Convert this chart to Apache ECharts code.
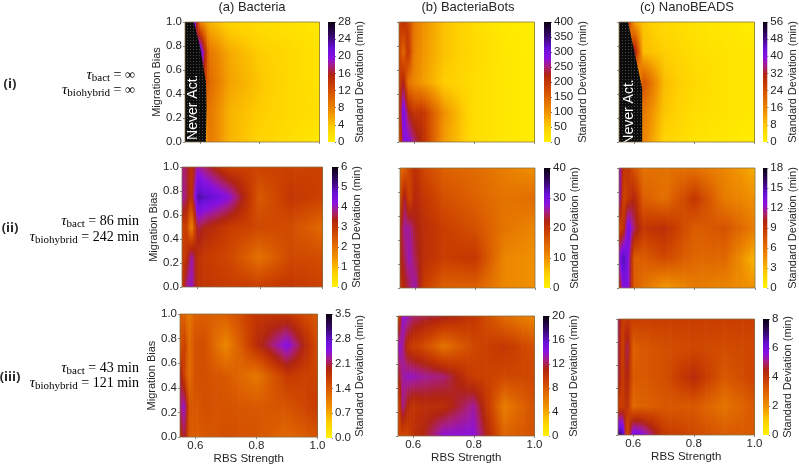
<!DOCTYPE html>
<html><head><meta charset="utf-8">
<style>html,body{margin:0;padding:0;background:#fff}#c{width:799px;height:466px}</style>
<script src="https://cdn.jsdelivr.net/npm/echarts@6/dist/echarts.min.js"></script>
</head><body><div id="c"></div>
<script>
// Grid nodes
const rbsNodes = [0.55, 0.565, 0.58, 0.6, 0.63, 0.7, 0.8, 0.9, 1.0];
const biasNodes = [0, 0.25, 0.5, 0.75, 1];
const xTicks = [0.6, 0.8, 1.0];

// Standard deviation (min); one row per migration bias node, bottom to top
const bacteria_i = [
  [0,0,0,2,9,5,3,2,1],
  [0,0,0,6,9,5,3.5,2.5,2],
  [0,0,0,18,10,6,4,2.5,1.5],
  [0,0,14,24,9,5.5,3.5,2.5,1.5],
  [0,18,22,8,5,3,2,1.5,1]];
const bots_i = [
  [150,280,290,250,210,90,30,15,8],
  [190,310,230,200,200,100,30,15,8],
  [190,230,130,110,90,50,30,15,8],
  [190,140,210,120,95,60,35,15,8],
  [190,210,190,130,100,60,30,12,5]];
const nano_i = [
  [0,0,0,0,16,6,3,2,1],
  [0,0,0,0,18,8,4,3,2],
  [0,0,0,0,24,9,5,3,2],
  [0,0,0,36,9,7,4,3,2],
  [0,0,30,12,8,5,3,2,1]];
const bacteria_ii = [
  [2.8,3.9,4.1,3.1,3.0,2.9,2.9,3.0,2.8],
  [2.8,3.1,4.0,3.1,2.9,2.7,2.0,2.7,2.6],
  [2.8,2.9,1.6,3.6,3.3,2.9,2.7,2.6,2.1],
  [4.0,3.6,3.0,5.0,4.8,4.2,2.4,3.0,2.8],
  [3.8,3.6,3.0,4.0,3.6,2.8,2.8,2.8,2.8]];
const bots_ii = [
  [20,22,24,27,19,15,15,11,10],
  [22,24,27,24,21,19,20,11,10],
  [22,26,26,23,21,19,17,13,11],
  [17,24,18,22,20,17,15,13,14],
  [14,15,18,21,18,15,14,12,10]];
const nano_ii = [
  [9,13,13,7,6,4,5.5,5,4.5],
  [13,15,13,7,7,8,6.5,6.5,3],
  [8,9,14,11,9,9.5,7,7.5,5.5],
  [13,8,9,10,7,6,9,5.5,4.5],
  [13,9,9,7.5,6,6,6,5,3.5]];
const bacteria_iii = [
  [1.8,2.1,1.4,1.35,1.4,1.5,1.45,1.25,1.45],
  [2.2,2.4,1.45,1.4,1.5,1.45,1.4,1.45,1.7],
  [2.1,1.6,1.2,1.5,1.5,1.4,1.1,1.7,1.6],
  [1.4,1.7,1.2,1.5,1.5,0.95,1.85,2.5,1.5],
  [1.35,1.3,1.1,1.35,1.35,1.35,1.75,1.75,1.4]];
const bots_iii = [
  [9,9,9,10.5,11,14,14,7.5,8.5],
  [8,13,11,10,10.5,10.5,13,6,8.5],
  [11,13,13.5,13.5,13,12.5,9.5,9,9],
  [14,13,10.5,9.5,9,6.5,9,10,8.5],
  [8,14,13.5,12.5,12,11.5,10,7,5.5]];
const nano_iii = [
  [7,7,3.2,6.2,5.8,4,3.6,3.2,3.2],
  [3.8,3.8,4.2,2.8,3,3.2,3.2,2.6,3.2],
  [5,3.8,4.6,3.2,3.2,3.4,4.3,3.2,3.7],
  [5,3.6,5,3,3.2,3.4,3.6,3.5,3.6],
  [5.2,3.8,4,3.8,3.8,3.8,3.8,3.8,3.8]];

// "Never Act." boundaries [rbs, bias]
const neverBacteria = [[0.55,0],[0.62,0],[0.622,0.3],[0.62,0.5],[0.61,0.65],[0.6,0.8],[0.58,1],[0.55,1]];
const neverNano = [[0.55,0],[0.627,0],[0.627,0.45],[0.58,1],[0.55,1]];

const titles = ['(a) Bacteria', '(b) BacteriaBots', '(c) NanoBEADS'];
const FONT = '"Liberation Sans", Arial, sans-serif';
const SERIF = '"Liberation Serif", serif';
const INK = '#262626';

// Colour scale: offset, colour
const cmapStops = [
  [0,'#FFF200'],[0.12,'#FFD000'],[0.25,'#F09000'],[0.38,'#DC6000'],[0.48,'#C83C00'],
  [0.56,'#B02410'],[0.63,'#A81E80'],[0.70,'#8A10E0'],[0.78,'#6A10D8'],[0.88,'#380870'],[1,'#0A0010']];
function colorAt(t){
  t = Math.max(0, Math.min(1, t));
  for (let i = 1; i < cmapStops.length; i++){
    if (t <= cmapStops[i][0]){
      const a = cmapStops[i-1], b = cmapStops[i];
      return echarts.color.lerp((t-a[0])/(b[0]-a[0]), [a[1], b[1]]);
    }
  }
  return cmapStops[cmapStops.length-1][1];
}

// Panel layouts
const panels = [
 {vals:bacteria_i,  max:28, step:4,  dec:0, l:185, t:22,  w:134.5,h:120,  cl:328,  cw:7, cGap:15, col:0,row:0, never:neverBacteria, nLabel:[0.578,0.29]},
 {vals:bots_i,      max:400,step:50, dec:0, l:399, t:22,  w:135.5,h:120,  cl:544,  cw:7, cGap:20, col:1,row:0},
 {vals:nano_i,      max:56, step:8,  dec:0, l:619, t:22,  w:135.5,h:120,  cl:763,  cw:6, cGap:15, col:2,row:0, never:neverNano, nLabel:[0.585,0.25]},
 {vals:bacteria_ii, max:6,  step:1,  dec:0, l:182, t:167, w:140.5,h:120,  cl:332,  cw:6, cGap:10, col:0,row:1},
 {vals:bots_ii,     max:40, step:10, dec:0, l:400, t:168, w:135,  h:120,  cl:544,  cw:6, cGap:16, col:1,row:1},
 {vals:nano_ii,     max:18, step:3,  dec:0, l:619, t:168, w:136,  h:120,  cl:763,  cw:7, cGap:16, col:2,row:1},
 {vals:bacteria_iii,max:3.5,step:0.7,dec:1, l:180, t:314, w:137.5,h:124,  cl:326,  cw:6, cGap:19, col:0,row:2},
 {vals:bots_iii,    max:20, step:4,  dec:0, l:398, t:316, w:136.5,h:120,  cl:543,  cw:6, cGap:16, col:1,row:2},
 {vals:nano_iii,    max:8,  step:2,  dec:0, l:618, t:319, w:136.5,h:116,  cl:763,  cw:6, cGap:9,  col:2,row:2}
];

function shadeRenderer(max){
  return function(params, api){
    const a = api.coord([api.value(0), api.value(1)]);
    const b = api.coord([api.value(2), api.value(3)]);
    const v00 = api.value(4), v10 = api.value(5), v01 = api.value(6), v11 = api.value(7);
    const w = b[0]-a[0], n = Math.max(1, Math.ceil(w/2)), children = [];
    for (let k = 0; k < n; k++){
      const u = (k+0.5)/n, vb = v00+(v10-v00)*u, vt = v01+(v11-v01)*u, cs = [];
      for (let s = 0; s <= 8; s++){
        const f = s/8;
        cs.push({offset:f, color:colorAt((vt+(vb-vt)*f)/max)});
      }
      children.push({type:'rect', shape:{x:a[0]+k*w/n, y:b[1], width:w/n+0.7, height:a[1]-b[1]+0.7},
        style:{fill:new echarts.graphic.LinearGradient(0,0,0,1,cs)}, silent:true});
    }
    return {type:'group', children};
  };
}

function dotPattern(){
  const c = document.createElement('canvas'); c.width = 3; c.height = 3;
  const g = c.getContext('2d');
  g.fillStyle = '#0c0c0c'; g.fillRect(0,0,3,3);
  g.fillStyle = '#464646'; g.fillRect(1,1,1,1);
  return c;
}
const pattern = dotPattern();

function neverRenderer(poly, label){
  return function(params, api){
    const pts = poly.map(p => api.coord(p));
    const lp = api.coord(label);
    return {type:'group', children:[
      {type:'polygon', shape:{points:pts}, style:{fill:{image:pattern, repeat:'repeat'}}, silent:true},
      {type:'text', x:lp[0], y:lp[1], rotation:Math.PI/2, silent:true,
       style:{text:'Never Act.', fill:'#fff', font:'14px '+FONT, align:'center', verticalAlign:'middle'}}
    ]};
  };
}

const grid = [], xAxis = [], yAxis = [], series = [];
panels.forEach(p => {
  const gi = grid.length;
  grid.push({left:p.l, top:p.t, width:p.w, height:p.h, show:true, z:5,
    backgroundColor:'transparent', borderColor:'rgba(130,110,70,0.75)', borderWidth:1});
  xAxis.push({gridIndex:gi, type:'value', min:0.55, max:1, position:'bottom',
    name:p.row===2?'RBS Strength':'', nameLocation:'middle', nameGap:15,
    nameTextStyle:{fontFamily:FONT, fontSize:11.5, color:INK},
    splitLine:{show:false}, axisLine:{show:false},
    axisTick:{show:true, customValues:xTicks, length:2, lineStyle:{color:'#888'}},
    axisLabel:{show:p.row===2, customValues:xTicks, margin:3, fontFamily:FONT, fontSize:11.5, color:INK,
      formatter:v => v.toFixed(1)}});
  yAxis.push({gridIndex:gi, type:'value', min:0, max:1, interval:0.2,
    name:p.col===0?'Migration Bias':'', nameLocation:'middle', nameGap:22,
    nameTextStyle:{fontFamily:FONT, fontSize:11, color:INK},
    splitLine:{show:false}, axisLine:{show:false},
    axisTick:{show:true, length:2, lineStyle:{color:'#888'}},
    axisLabel:{show:p.col===0, margin:3, fontFamily:FONT, fontSize:11.5, color:INK,
      formatter:v => v.toFixed(1)}});
  const cells = [];
  for (let j = 0; j < biasNodes.length-1; j++){
    for (let i = 0; i < rbsNodes.length-1; i++){
      cells.push([rbsNodes[i], biasNodes[j], rbsNodes[i+1], biasNodes[j+1],
        p.vals[j][i], p.vals[j][i+1], p.vals[j+1][i], p.vals[j+1][i+1]]);
    }
  }
  series.push({type:'custom', xAxisIndex:gi, yAxisIndex:gi, data:cells, clip:true, silent:true, animation:false,
    encode:{x:[0,2], y:[1,3]}, renderItem:shadeRenderer(p.max)});
  if (p.never){
    series.push({type:'custom', xAxisIndex:gi, yAxisIndex:gi, data:[[p.nLabel[0],p.nLabel[1]]], clip:true, silent:true,
      animation:false, z:3, encode:{x:0,y:1}, renderItem:neverRenderer(p.never,p.nLabel)});
  }
  // colour bar
  const ci = grid.length;
  grid.push({left:p.cl, top:p.t, width:p.cw, height:p.h});
  xAxis.push({gridIndex:ci, type:'category', data:['sd'], show:false});
  yAxis.push({gridIndex:ci, type:'value', min:0, max:p.max, interval:p.step, position:'right',
    name:'Standard Deviation (min)', nameLocation:'middle', nameRotate:90, nameGap:p.cGap,
    nameTextStyle:{fontFamily:FONT, fontSize:11, color:INK},
    splitLine:{show:false}, axisLine:{show:false},
    axisTick:{show:true, length:1, lineStyle:{color:'#777'}},
    axisLabel:{margin:3, fontFamily:FONT, fontSize:11.5, color:INK, formatter:v => v.toFixed(p.dec)}});
  series.push({type:'bar', xAxisIndex:ci, yAxisIndex:ci, data:[p.max], barWidth:'100%', silent:true, animation:false,
    itemStyle:{color:new echarts.graphic.LinearGradient(0,1,0,0,
      cmapStops.map(s => ({offset:s[0], color:s[1]})))}});
});

const tauRich = {
  t:{fontFamily:SERIF, fontStyle:'italic', fontSize:15, color:INK},
  s:{fontFamily:SERIF, fontSize:11, color:INK, padding:[6,0,0,0]},
  n:{fontFamily:SERIF, fontSize:14, color:INK}
};
function tau(x, y, sub, rhs){
  return {type:'text', x:x, y:y, style:{text:'{t|τ}{s|'+sub+'}{n| = '+rhs+'}', rich:tauRich, align:'right', verticalAlign:'middle'}, silent:true};
}
function roman(x, y, s){
  return {type:'text', x:x, y:y, style:{text:s, font:'bold 13px "Open Sans", sans-serif', fill:INK, align:'center', verticalAlign:'middle'}, silent:true};
}
const graphic = [
  roman(10,84,'(i)'), tau(135,75,'bact','∞'), tau(135,90,'biohybrid','∞'),
  roman(10,228,'(ii)'), tau(139,221,'bact','86 min'), tau(139,237,'biohybrid','242 min'),
  roman(10,377,'(iii)'), tau(139,368,'bact','43 min'), tau(139,383,'biohybrid','121 min')
];
const titleOpt = [[252,1],[468,1],[687,1]].map((c,i) => ({text:titles[i], left:c[0], top:c[1], textAlign:'center', padding:0,
  textStyle:{fontFamily:FONT, fontSize:13, fontWeight:'normal', color:INK}}));

const chart = echarts.init(document.getElementById('c'), null, {renderer:'canvas'});
chart.setOption({backgroundColor:'#fff', animation:false, title:titleOpt, grid, xAxis, yAxis, series, graphic});
</script></body></html>
